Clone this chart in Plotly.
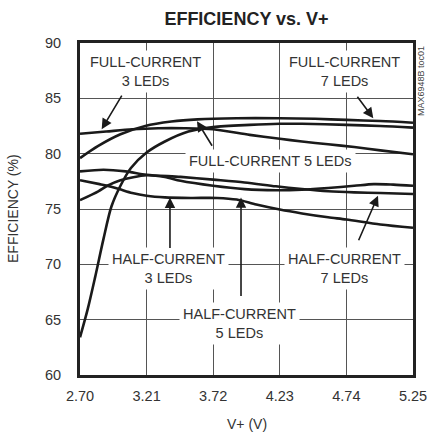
import plotly.graph_objects as go

# V+ supply voltage (V) and efficiency (%)
x_ticks = [2.70, 3.21, 3.72, 4.23, 4.74, 5.25]
y_ticks = [60, 65, 70, 75, 80, 85, 90]

full_3_v = [2.70, 2.90, 3.10, 3.30, 3.50, 3.72, 4.00, 4.23, 4.40, 4.60, 4.80, 5.00, 5.25]
full_3_eff = [81.8, 82.0, 82.2, 82.3, 82.3, 82.2, 81.7, 81.35, 81.1, 80.85, 80.6, 80.3, 79.95]

full_7_v = [2.70, 2.84, 3.01, 3.20, 3.40, 3.60, 3.90, 4.23, 4.50, 4.74, 5.00, 5.25]
full_7_eff = [79.6, 80.7, 81.75, 82.5, 82.9, 83.1, 83.2, 83.2, 83.15, 83.05, 82.95, 82.8]

full_5_v = [2.70, 2.76, 2.815, 2.88, 2.94, 3.01, 3.09, 3.21, 3.35, 3.53, 3.72, 4.00, 4.23, 4.40, 4.74, 5.00, 5.25]
full_5_eff = [63.4, 66.0, 68.8, 72.3, 75.2, 77.1, 78.7, 80.1, 81.1, 82.0, 82.4, 82.6, 82.7, 82.7, 82.6, 82.5, 82.35]

half_a_v = [2.70, 2.88, 3.05, 3.21, 3.47, 3.72, 3.96, 4.20, 4.40, 4.60, 4.80, 5.00, 5.25]
half_a_eff = [78.4, 78.55, 78.4, 78.1, 77.9, 77.65, 77.4, 77.05, 76.8, 76.6, 76.5, 76.45, 76.35]

half_b_v = [2.70, 2.84, 2.91, 3.01, 3.21, 3.35, 3.47, 3.72, 3.96, 4.20, 4.40, 4.60, 4.80, 4.95, 5.10, 5.25]
half_b_eff = [75.8, 76.6, 77.1, 77.6, 78.05, 77.9, 77.55, 77.1, 76.8, 76.7, 76.75, 76.9, 77.1, 77.25, 77.2, 77.1]

half_c_v = [2.70, 2.85, 2.91, 3.00, 3.10, 3.21, 3.35, 3.55, 3.75, 3.90, 4.05, 4.23, 4.40, 4.60, 4.74, 5.00, 5.25]
half_c_eff = [77.6, 77.25, 77.1, 76.8, 76.45, 76.2, 76.05, 76.0, 76.0, 75.85, 75.4, 74.95, 74.6, 74.25, 74.05, 73.6, 73.3]

curves = [
    (full_3_v, full_3_eff), (full_7_v, full_7_eff), (full_5_v, full_5_eff),
    (half_a_v, half_a_eff), (half_b_v, half_b_eff), (half_c_v, half_c_eff),
]

# label text, label position, arrow tip, arrow tail offset (px)
labels = [
    ("FULL-CURRENT<br>3 LEDs", 3.20, 87.42, 2.866, 82.21, 21, -35),
    ("FULL-CURRENT<br>7 LEDs", 4.722, 87.42, 4.946, 83.2, -17, -23),
    ("FULL-CURRENT 5 LEDs", 4.155, 79.31, 3.596, 82.93, 16, 26),
    ("HALF-CURRENT<br>3 LEDs", 3.374, 69.6, 3.389, 76.04, 0, 52),
    ("HALF-CURRENT<br>5 LEDs", 3.925, 64.62, 3.933, 76.05, 0, 100),
    ("HALF-CURRENT<br>7 LEDs", 4.729, 69.6, 4.982, 76.2, -20, 46),
]

FONT = "Liberation Sans, Arial, sans-serif"

fig = go.Figure()
for xs, ys in curves:
    fig.add_trace(go.Scatter(x=xs, y=ys, mode="lines",
                             line=dict(color="#1a1a1a", width=2.6, shape="spline", smoothing=0.8),
                             hoverinfo="skip", showlegend=False))

for text, tx, ty, ax_x, ax_y, dx, dy in labels:
    fig.add_annotation(x=tx, y=ty, text=text, showarrow=False,
                       font=dict(family=FONT, size=14.5, color="#333"),
                       bgcolor="white", borderpad=3)
    fig.add_annotation(x=ax_x, y=ax_y, text="", showarrow=True, ax=dx, ay=dy,
                       arrowhead=2, arrowsize=1.3, arrowwidth=1.6, arrowcolor="#1a1a1a")

# axis titles and side note
fig.add_annotation(xref="paper", yref="paper", x=0.5, y=0, yshift=-49, text="V+ (V)",
                   xanchor="center", yanchor="middle",
                   showarrow=False, font=dict(family=FONT, size=14, color="#333"))
fig.add_annotation(xref="paper", yref="paper", x=0, y=0.5, xshift=-67, text="EFFICIENCY (%)",
                   xanchor="center", yanchor="middle", textangle=-90,
                   showarrow=False, font=dict(family=FONT, size=14, color="#333"))
fig.add_annotation(xref="paper", yref="paper", x=1, y=0.8855, xshift=8, text="MAX6948B toc01",
                   xanchor="center", yanchor="middle", textangle=-90,
                   showarrow=False, font=dict(family=FONT, size=9, color="#444"))

fig.update_layout(
    width=428, height=436,
    margin=dict(l=80, r=15, t=43, b=61, autoexpand=False),
    paper_bgcolor="white", plot_bgcolor="white",
    title=dict(text="<b>EFFICIENCY vs. V+</b>", x=0.5, xref="paper", y=0.958, yanchor="middle",
               font=dict(family=FONT, size=18, color="#222")),
    font=dict(family=FONT, size=14.5, color="#333"),
)
fig.update_xaxes(range=[2.70, 5.2501], tickvals=x_ticks, ticktext=["%.2f" % v for v in x_ticks],
                 showgrid=True, gridcolor="#555", gridwidth=1, zeroline=False,
                 showline=True, mirror=True, linecolor="#222", linewidth=3,
                 ticks="", ticklabelstandoff=6, automargin=False)
fig.update_yaxes(range=[60, 90], tickvals=y_ticks, showgrid=True, gridcolor="#555", gridwidth=1,
                 zeroline=False, showline=True, mirror=True, linecolor="#222", linewidth=3,
                 ticks="", ticklabelstandoff=13, automargin=False)

# drop the default page margin so the figure sits at the window's corner
fig.write_html("out.html", config={"displayModeBar": False},
               post_script="document.body.style.margin='0';")
